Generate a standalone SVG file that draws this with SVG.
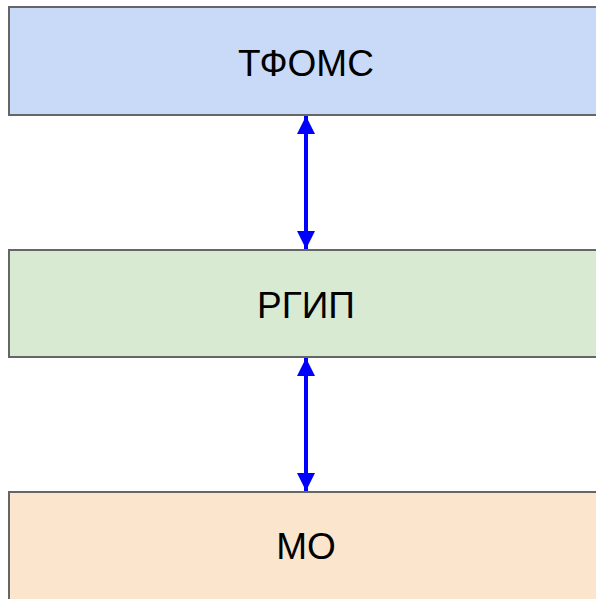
<svg xmlns="http://www.w3.org/2000/svg" width="596" height="599" viewBox="0 0 596 599">
<style>
.box{stroke:#666666;stroke-width:2}
.lbl{font-family:"Liberation Sans",Arial,sans-serif;font-size:37px;fill:#000000;text-anchor:middle}
.conn{stroke:#0000ff;stroke-width:4;fill:none}
</style>
<defs>
<marker id="ah" viewBox="0 0 10 10" refX="10" refY="5" markerWidth="4.5" markerHeight="4.5" orient="auto-start-reverse" markerUnits="strokeWidth">
<path d="M0,0 L10,5 L0,10 z" fill="#0000ff"/>
</marker>
</defs>
<rect width="596" height="599" fill="#ffffff"/>
<g id="tfoms">
<rect class="box" x="9" y="7" width="600" height="108" fill="#c9daf8"/>
<text class="lbl" x="306" y="76">ТФОМС</text>
</g>
<g id="rgip">
<rect class="box" x="9" y="250" width="600" height="107" fill="#d9ead3"/>
<text class="lbl" x="306" y="318">РГИП</text>
</g>
<g id="mo">
<rect class="box" x="9" y="492" width="600" height="120" fill="#fce5cd"/>
<text class="lbl" x="306" y="559">МО</text>
</g>
<g id="connectors">
<line class="conn" x1="306" y1="116" x2="306" y2="249" marker-start="url(#ah)" marker-end="url(#ah)"/>
<line class="conn" x1="306" y1="358" x2="306" y2="491" marker-start="url(#ah)" marker-end="url(#ah)"/>
</g>
</svg>
